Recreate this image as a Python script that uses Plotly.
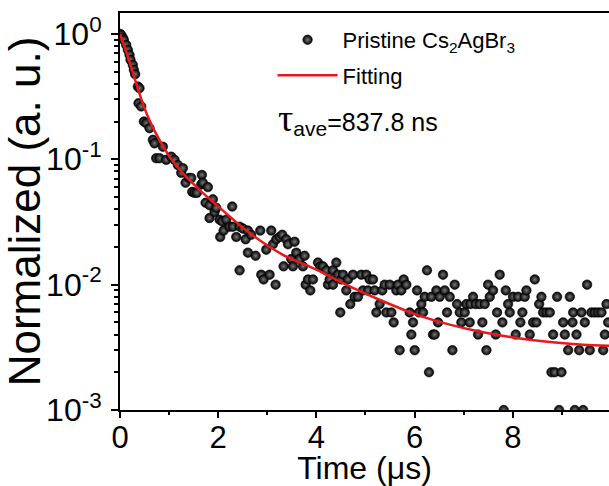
import plotly.graph_objects as go

# ---- data ----
time_us = [
    0.003, 0.024, 0.058, 0.078, 0.126, 0.160, 0.194, 0.214, 0.261, 0.282,
    0.309, 0.364, 0.377, 0.397, 0.432, 0.486, 0.534, 0.601, 0.669, 0.703,
    0.737, 0.805, 0.873, 0.941, 1.043, 1.111, 1.179, 1.247, 1.281, 1.335,
    1.403, 1.451, 1.471, 1.518, 1.566, 1.654, 1.668, 1.688, 1.743, 1.790, 1.824,
    1.824, 1.892, 1.926, 1.960, 2.028, 2.041, 2.082, 2.110, 2.164, 2.232,
    2.286, 2.300, 2.368, 2.436, 2.436, 2.504, 2.558, 2.605, 2.605, 2.673,
    2.762, 2.857, 2.877, 2.925, 2.979, 3.047, 3.081, 3.115, 3.169, 3.183,
    3.251, 3.305, 3.332, 3.386, 3.421, 3.488, 3.522, 3.556, 3.590, 3.658,
    3.726, 3.760, 3.781, 3.829, 3.876, 3.930, 4.032, 4.080, 4.134, 4.202,
    4.236, 4.270, 4.338, 4.338, 4.406, 4.440, 4.487, 4.507, 4.541, 4.609,
    4.643, 4.691, 4.745, 4.779, 4.847, 4.915, 4.949, 5.017, 5.051, 5.085,
    5.153, 5.187, 5.221, 5.289, 5.343, 5.391, 5.425, 5.493, 5.527, 5.574,
    5.628, 5.662, 5.696, 5.730, 5.778, 5.832, 5.900, 5.934, 5.968, 6.002,
    6.050, 6.090, 6.138, 6.172, 6.206, 6.253, 6.294, 6.342, 6.376, 6.410,
    6.444, 6.478, 6.512, 6.579, 6.613, 6.661, 6.716, 6.770, 6.817, 6.865,
    6.919, 6.953, 7.021, 7.055, 7.123, 7.137, 7.191, 7.245, 7.293, 7.327,
    7.381, 7.429, 7.463, 7.497, 7.531, 7.599, 7.653, 7.680, 7.734, 7.789,
    7.816, 7.857, 7.904, 7.938, 8.006, 8.060, 8.108, 8.155, 8.196, 8.244,
    8.278, 8.346, 8.414, 8.448, 8.482, 8.537, 8.584, 8.618, 8.686, 8.754,
    8.788, 8.822, 8.856, 8.903, 8.944, 8.992, 9.026, 9.060, 9.128, 9.162,
    9.217, 9.230, 9.264, 9.298, 9.352, 9.399, 9.433, 9.467, 9.514, 9.569,
    9.603, 9.671, 9.739, 9.807, 9.841, 9.875, 9.909, 9.943,
]
intensity = [
    1.000, 0.980, 0.930, 0.896, 0.817, 0.746, 0.681, 0.621, 0.566, 0.517,
    0.477, 0.380, 0.280, 0.369, 0.264, 0.200, 0.194, 0.177, 0.143, 0.134,
    0.102, 0.102, 0.126, 0.099, 0.105, 0.099, 0.090, 0.078, 0.085, 0.065,
    0.071, 0.071, 0.055, 0.054, 0.054, 0.063, 0.075, 0.065, 0.045, 0.060, 0.043,
    0.034, 0.048, 0.038, 0.041, 0.033, 0.024, 0.032, 0.027, 0.033, 0.029,
    0.042, 0.029, 0.024, 0.029, 0.013, 0.028, 0.023, 0.027, 0.018, 0.025,
    0.017, 0.027, 0.012, 0.011, 0.019, 0.012, 0.027, 0.021, 0.010, 0.023,
    0.024, 0.025, 0.014, 0.023, 0.021, 0.016, 0.014, 0.022, 0.018, 0.016,
    0.014, 0.017, 0.010, 0.011, 0.009, 0.011, 0.015, 0.014, 0.014, 0.013,
    0.010, 0.011, 0.010, 0.013, 0.015, 0.012, 0.006, 0.011, 0.012, 0.009,
    0.011, 0.007, 0.012, 0.008, 0.008, 0.012, 0.009, 0.012, 0.009, 0.011,
    0.011, 0.009, 0.006, 0.007, 0.009, 0.010, 0.006, 0.010, 0.006, 0.005,
    0.009, 0.010, 0.003, 0.009, 0.011, 0.010, 0.006, 0.004, 0.005, 0.003,
    0.009, 0.006, 0.007, 0.006, 0.008, 0.013, 0.002, 0.008, 0.004, 0.004,
    0.009, 0.005, 0.008, 0.012, 0.009, 0.006, 0.008, 0.003, 0.010, 0.007,
    0.006, 0.005, 0.006, 0.007, 0.005, 0.007, 0.008, 0.007, 0.004, 0.007,
    0.005, 0.007, 0.003, 0.010, 0.008, 0.009, 0.004, 0.006, 0.012, 0.005,
    0.001, 0.009, 0.007, 0.006, 0.008, 0.004, 0.008, 0.005, 0.006, 0.008,
    0.009, 0.004, 0.005, 0.011, 0.005, 0.007, 0.008, 0.006, 0.006, 0.006,
    0.002, 0.004, 0.002, 0.008, 0.001, 0.002, 0.005, 0.004, 0.003, 0.008,
    0.005, 0.006, 0.001, 0.004, 0.003, 0.006, 0.001, 0.005, 0.010, 0.003,
    0.006, 0.006, 0.006, 0.006, 0.003, 0.004, 0.007, 0.005,
]

fit_time_us = [0.0, 0.16, 0.296, 0.45, 0.6, 0.805, 1.009, 1.247, 1.62, 1.96,
               2.639, 3.319, 3.998, 4.677, 5.357, 6.036, 6.716, 7.395, 8.074,
               8.754, 9.433, 9.96]
fit_values = [1.0, 0.66, 0.445, 0.29, 0.205, 0.142, 0.105, 0.080, 0.0571, 0.0434,
              0.0258, 0.0173, 0.0132, 0.0097, 0.00737, 0.00577, 0.0048,
              0.00417, 0.00376, 0.00349, 0.00332, 0.00326]

x_tick_vals = [0, 2, 4, 6, 8]
y_tick_vals = [1e-3, 1e-2, 1e-1, 1e0]
y_tick_text = ["10<sup>-3</sup>", "10<sup>-2</sup>", "10<sup>-1</sup>", "10<sup>0</sup>"]
y_minor_vals = [m * 10.0 ** e for e in (-3, -2, -1) for m in range(2, 10)]

FONT = "Arial, Liberation Sans, sans-serif"

fig = go.Figure()
fig.add_trace(go.Scatter(
    x=time_us, y=intensity, mode="markers",
    name="Pristine Cs<sub>2</sub>AgBr<sub>3</sub>",
    legendgroup="a",
    marker=dict(size=9.5, color="#000000",
                gradient=dict(type="radial", color="#777777"),
                line=dict(width=0.6, color="#000000")),
))
fig.add_trace(go.Scatter(
    x=fit_time_us, y=fit_values, mode="lines", name="Fitting",
    legendgroup="b",
    line=dict(color="#e8191c", width=2.5, shape="spline", smoothing=0.8),
))

fig.add_annotation(
    xref="paper", yref="paper", x=0.318, y=0.735, xanchor="left", yanchor="middle",
    showarrow=False,
    text="<span style=\"font-family:Liberation Serif, DejaVu Serif; font-size:38px\">τ</span>"
         "<sub><span style=\"font-size:21px\">ave</span></sub>=837.8 ns",
    font=dict(family=FONT, size=25, color="black"),
)

fig.update_layout(
    width=609, height=486,
    margin=dict(l=120, r=0, t=13, b=76, autoexpand=False),
    paper_bgcolor="white", plot_bgcolor="white",
    font=dict(family=FONT, color="black"),
    showlegend=True,
    legend=dict(x=0.312, y=0.985, xanchor="left", yanchor="top",
                bgcolor="rgba(0,0,0,0)", borderwidth=0,
                font=dict(family=FONT, size=22, color="black"),
                itemwidth=60, tracegroupgap=4, traceorder="grouped"),
    xaxis=dict(
        range=[0, 9.96], showgrid=False, zeroline=False,
        showline=True, linecolor="black", linewidth=2, mirror=True,
        ticks="outside", ticklen=6, tickwidth=2, tickcolor="black",
        tickvals=x_tick_vals, tickfont=dict(family=FONT, size=31, color="black"),
        ticklabelstandoff=-7,
        minor=dict(dtick=1, tick0=0, ticks="outside", ticklen=3, tickwidth=2,
                   tickcolor="black", showgrid=False),
        title=dict(text="Time (μs)", font=dict(family=FONT, size=32, color="black"),
                   standoff=9),
    ),
    yaxis=dict(
        type="log", range=[-3, 0.167], showgrid=False, zeroline=False,
        showline=True, linecolor="black", linewidth=2, mirror=False,
        ticks="outside", ticklen=7, tickwidth=2, tickcolor="black",
        tickvals=y_tick_vals, ticktext=y_tick_text,
        tickfont=dict(family=FONT, size=32, color="black"),
        ticklabelstandoff=3,
        minor=dict(tickvals=y_minor_vals, ticks="outside", ticklen=4, tickwidth=1.5,
                   tickcolor="black", showgrid=False),
        title=dict(text="Normalized (a. u.)", font=dict(family=FONT, size=44, color="black"),
                   standoff=0),
    ),
)

fig.write_html("out.html", config={"displayModeBar": False},
               post_script="document.body.style.margin='0';")
